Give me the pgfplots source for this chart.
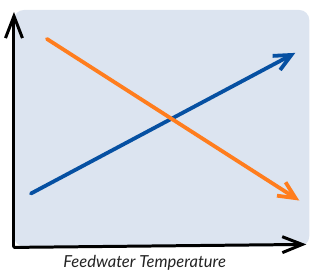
\documentclass[border=0pt]{standalone}
\usepackage{pgfplots}
\pgfplotsset{compat=1.18}
\usetikzlibrary{arrows.meta}
\usepackage{fontspec}
\setmainfont{Lato}
\definecolor{bg}{RGB}{220,228,240}
\definecolor{lblue}{RGB}{6,80,162}
\definecolor{lorange}{RGB}{255,125,30}
\definecolor{txt}{RGB}{35,35,35}
\begin{document}
\begin{tikzpicture}
\begin{axis}[scale only axis, width=310pt, height=271pt,
  xmin=0, xmax=310, ymin=0, ymax=271, y dir=reverse,
  hide axis, clip=false]
\addplot[draw=none, forget plot] coordinates {(0,0) (310,271)};
\addplot[draw=none, fill=bg, rounded corners=10pt] coordinates {(14,10) (310,10) (310,247) (14,247)} -- cycle;
% axes
\addplot[black, line width=3pt, line cap=round, -{Straight Barb[length=22pt,width=17pt,line width=3pt]}] coordinates {(14,247) (14,12)};
\addplot[black, line width=3pt, line cap=round, -{Straight Barb[length=20pt,width=16pt,line width=3pt]}] coordinates {(14,248) (307,245)};
% lines
\addplot[lblue, line width=3.8pt, line cap=round, -{Straight Barb[length=17pt,width=16pt,line width=3.8pt]}] coordinates {(31,194) (296,53)};
\addplot[lorange, line width=3.8pt, line cap=round, -{Straight Barb[length=17pt,width=16pt,line width=3.8pt]}] coordinates {(47,39) (300,201)};
\node[txt, font=\itshape\fontsize{16.6}{19}\selectfont] at (axis cs:145,263) {Feedwater Temperature};
\end{axis}
\end{tikzpicture}
\end{document}
